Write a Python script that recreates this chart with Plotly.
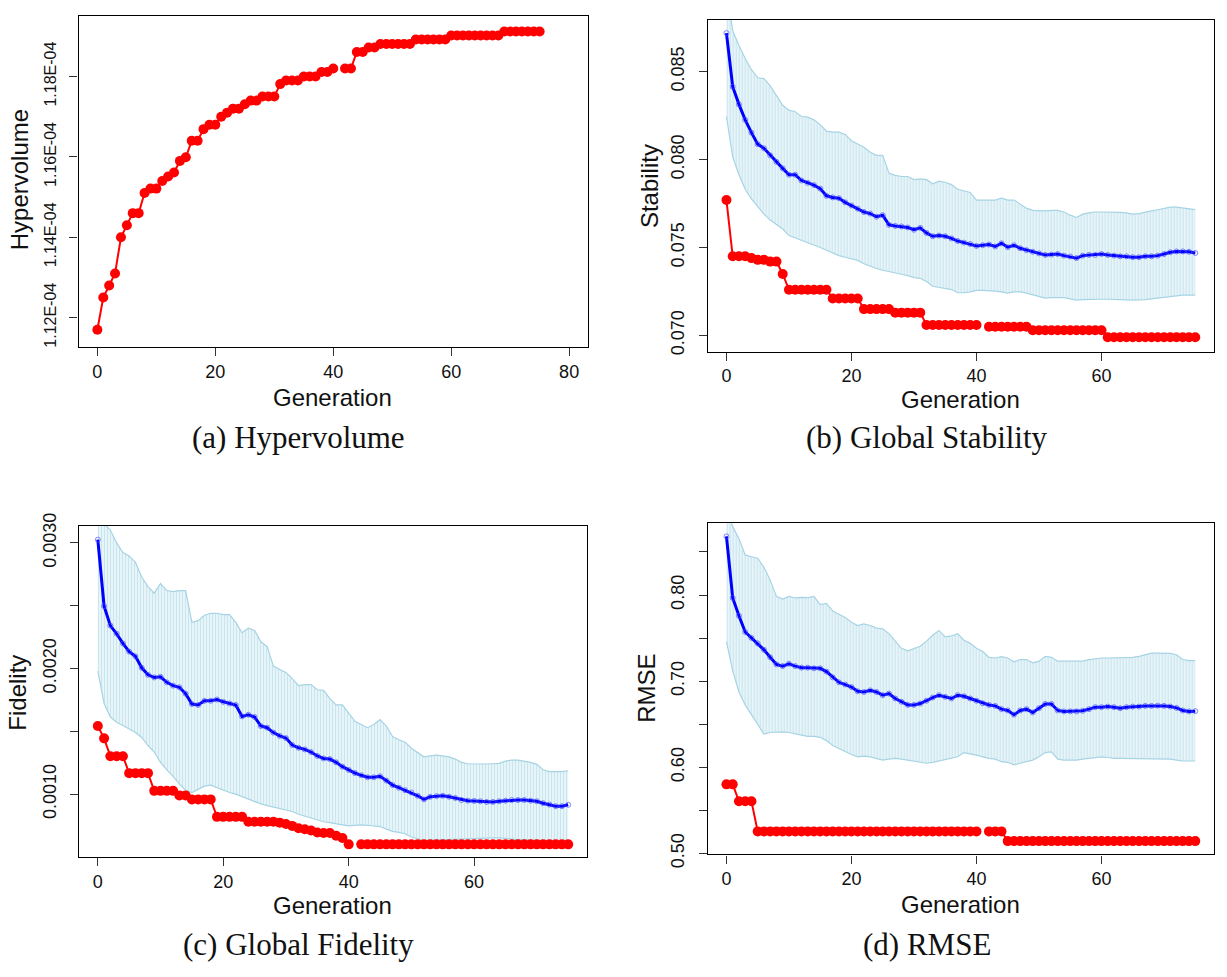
import plotly.graph_objects as go

W, H = 1227, 977
gens = list(range(76))

# ---------------- (a) Hypervolume: best per generation ----------------
hv_best = [1.1170e-4, 1.1250e-4, 1.1280e-4, 1.1310e-4, 1.1400e-4, 1.1430e-4, 1.1460e-4, 1.1460e-4,
           1.1510e-4, 1.1521e-4, 1.1521e-4, 1.1540e-4, 1.1551e-4, 1.1561e-4, 1.1590e-4, 1.1599e-4,
           1.1640e-4, 1.1640e-4, 1.1669e-4, 1.1680e-4, 1.1680e-4, 1.1700e-4, 1.1710e-4, 1.1720e-4,
           1.1720e-4, 1.1731e-4, 1.1740e-4, 1.1740e-4, 1.1750e-4, 1.1750e-4, 1.1750e-4, 1.1781e-4,
           1.1790e-4, 1.1790e-4, 1.1790e-4, 1.1800e-4, 1.1800e-4, 1.1800e-4, 1.1811e-4, 1.1811e-4,
           1.1820e-4, None, 1.1820e-4, 1.1820e-4, 1.1861e-4, 1.1861e-4, 1.1872e-4, 1.1872e-4,
           1.1881e-4, 1.1881e-4, 1.1881e-4, 1.1881e-4, 1.1881e-4, 1.1881e-4, 1.1892e-4, 1.1892e-4,
           1.1892e-4, 1.1892e-4, 1.1892e-4, 1.1892e-4, 1.1902e-4, 1.1902e-4, 1.1902e-4, 1.1902e-4,
           1.1902e-4, 1.1902e-4, 1.1902e-4, 1.1902e-4, 1.1902e-4, 1.1912e-4, 1.1912e-4, 1.1912e-4,
           1.1912e-4, 1.1912e-4, 1.1912e-4, 1.1912e-4]

# ---------------- (b) Global Stability ----------------
stab_best = [0.0777, 0.0745, 0.0745, 0.0745, 0.0744, 0.0743, 0.0743, 0.0742, 0.0742, 0.0735,
             0.0726, 0.0726, 0.0726, 0.0726, 0.0726, 0.0726, 0.0726, 0.0721, 0.0721, 0.0721,
             0.0721, 0.0721, 0.0715, 0.0715, 0.0715, 0.0715, 0.0715, 0.0713, 0.0713, 0.0713,
             0.0713, 0.0713, 0.0706, 0.0706, 0.0706, 0.0706, 0.0706, 0.0706, 0.0706, 0.0706,
             0.0706, None, 0.0705, 0.0705, 0.0705, 0.0705, 0.0705, 0.0705, 0.0705, 0.0703,
             0.0703, 0.0703, 0.0703, 0.0703, 0.0703, 0.0703, 0.0703, 0.0703, 0.0703, 0.0703,
             0.0703, 0.0699, 0.0699, 0.0699, 0.0699, 0.0699, 0.0699, 0.0699, 0.0699, 0.0699,
             0.0699, 0.0699, 0.0699, 0.0699, 0.0699, 0.0699]
stab_mean = [0.08719, 0.08414, 0.08314, 0.08226, 0.08153, 0.08088, 0.08064, 0.08024, 0.07987, 0.07950,
             0.07914, 0.07914, 0.07881, 0.07868, 0.07855, 0.07835, 0.07794, 0.07785, 0.07780, 0.07757,
             0.07739, 0.07721, 0.07702, 0.07693, 0.07675, 0.07684, 0.07629, 0.07623, 0.07620, 0.07614,
             0.07601, 0.07612, 0.07583, 0.07564, 0.07568, 0.07564, 0.07552, 0.07537, 0.07528, 0.07520,
             0.07509, 0.07513, 0.07517, 0.07506, 0.07524, 0.07502, 0.07513, 0.07496, 0.07485, 0.07476,
             0.07467, 0.07458, 0.07460, 0.07463, 0.07454, 0.07449, 0.07440, 0.07454, 0.07458, 0.07458,
             0.07463, 0.07458, 0.07454, 0.07450, 0.07450, 0.07445, 0.07445, 0.07450, 0.07450, 0.07454,
             0.07463, 0.07473, 0.07478, 0.07478, 0.07476, 0.07469]
stab_upper = [0.09000, 0.08732, 0.08649, 0.08575, 0.08511, 0.08465, 0.08460, 0.08419, 0.08364, 0.08309,
              0.08281, 0.08272, 0.08245, 0.08241, 0.08226, 0.08199, 0.08162, 0.08156, 0.08156, 0.08143,
              0.08107, 0.08088, 0.08070, 0.08042, 0.08024, 0.08024, 0.07923, 0.07910, 0.07904, 0.07904,
              0.07886, 0.07890, 0.07886, 0.07862, 0.07877, 0.07871, 0.07858, 0.07831, 0.07822, 0.07813,
              0.07770, 0.07770, 0.07770, 0.07770, 0.07781, 0.07770, 0.07770, 0.07748, 0.07724, 0.07711,
              0.07708, 0.07708, 0.07711, 0.07711, 0.07702, 0.07684, 0.07671, 0.07690, 0.07697, 0.07702,
              0.07702, 0.07702, 0.07702, 0.07700, 0.07697, 0.07690, 0.07693, 0.07702, 0.07708, 0.07715,
              0.07724, 0.07730, 0.07730, 0.07726, 0.07722, 0.07715]
stab_lower = [0.08245, 0.08015, 0.07914, 0.07831, 0.07776, 0.07730, 0.07690, 0.07656, 0.07629, 0.07605,
              0.07568, 0.07555, 0.07542, 0.07528, 0.07513, 0.07500, 0.07485, 0.07469, 0.07454, 0.07445,
              0.07436, 0.07427, 0.07408, 0.07394, 0.07381, 0.07371, 0.07362, 0.07353, 0.07348, 0.07340,
              0.07329, 0.07325, 0.07307, 0.07280, 0.07274, 0.07270, 0.07261, 0.07243, 0.07243, 0.07248,
              0.07256, 0.07256, 0.07256, 0.07252, 0.07248, 0.07241, 0.07248, 0.07248, 0.07241, 0.07230,
              0.07219, 0.07212, 0.07215, 0.07215, 0.07215, 0.07208, 0.07201, 0.07204, 0.07206, 0.07206,
              0.07206, 0.07206, 0.07206, 0.07204, 0.07203, 0.07201, 0.07201, 0.07204, 0.07208, 0.07212,
              0.07215, 0.07223, 0.07226, 0.07230, 0.07230, 0.07230]

# ---------------- (c) Global Fidelity ----------------
fid_best = [0.001542, 0.001444, 0.001302, 0.001302, 0.001302, 0.001167, 0.001167, 0.001167, 0.001167,
            0.001026, 0.001026, 0.001026, 0.001026, 0.000990, 0.000990, 0.000958, 0.000958, 0.000958,
            0.000958, 0.000819, 0.000819, 0.000819, 0.000819, 0.000819, 0.000780, 0.000780, 0.000780,
            0.000780, 0.000780, 0.000773, 0.000762, 0.000747, 0.000729, 0.000721, 0.000711, 0.000695,
            0.000690, 0.000690, 0.000669, 0.000651, 0.000600, None, 0.000600, 0.000600, 0.000600,
            0.000600, 0.000600, 0.000600, 0.000600, 0.000600, 0.000600, 0.000600, 0.000600, 0.000600,
            0.000600, 0.000600, 0.000600, 0.000600, 0.000600, 0.000600, 0.000600, 0.000600, 0.000600,
            0.000600, 0.000600, 0.000600, 0.000600, 0.000600, 0.000600, 0.000600, 0.000600, 0.000600,
            0.000600, 0.000600, 0.000600, 0.000600]
fid_mean = [0.003026, 0.002497, 0.002342, 0.002277, 0.002200, 0.002135, 0.002097, 0.002006, 0.001950,
            0.001929, 0.001934, 0.001890, 0.001864, 0.001851, 0.001800, 0.001717, 0.001710, 0.001743,
            0.001743, 0.001753, 0.001735, 0.001722, 0.001710, 0.001619, 0.001632, 0.001614, 0.001542,
            0.001529, 0.001490, 0.001464, 0.001446, 0.001391, 0.001369, 0.001356, 0.001335, 0.001304,
            0.001284, 0.001279, 0.001253, 0.001219, 0.001193, 0.001168, 0.001150, 0.001134, 0.001134,
            0.001142, 0.001108, 0.001072, 0.001051, 0.001031, 0.001013, 0.000987, 0.000958, 0.000979,
            0.000984, 0.000987, 0.000979, 0.000969, 0.000953, 0.000948, 0.000946, 0.000943, 0.000938,
            0.000938, 0.000943, 0.000948, 0.000953, 0.000953, 0.000953, 0.000948, 0.000943, 0.000928,
            0.000917, 0.000904, 0.000904, 0.000915]
fid_upper = [0.003200, 0.003150, 0.003103, 0.003000, 0.002923, 0.002897, 0.002845, 0.002729, 0.002652,
             0.002600, 0.002677, 0.002621, 0.002613, 0.002621, 0.002621, 0.002368, 0.002381, 0.002424,
             0.002440, 0.002440, 0.002430, 0.002430, 0.002368, 0.002285, 0.002321, 0.002303, 0.002213,
             0.002174, 0.002019, 0.001993, 0.001968, 0.001920, 0.001864, 0.001872, 0.001872, 0.001831,
             0.001826, 0.001761, 0.001710, 0.001710, 0.001645, 0.001580, 0.001555, 0.001529, 0.001555,
             0.001593, 0.001542, 0.001459, 0.001433, 0.001413, 0.001366, 0.001330, 0.001297, 0.001304,
             0.001310, 0.001304, 0.001297, 0.001279, 0.001253, 0.001242, 0.001240, 0.001240, 0.001240,
             0.001242, 0.001245, 0.001263, 0.001271, 0.001271, 0.001263, 0.001253, 0.001237, 0.001194,
             0.001180, 0.001180, 0.001180, 0.001186]
fid_lower = [0.001980, 0.001722, 0.001614, 0.001573, 0.001547, 0.001516, 0.001490, 0.001451, 0.001387,
             0.001335, 0.001253, 0.001193, 0.001142, 0.001082, 0.001031, 0.001013, 0.001038, 0.001064,
             0.001072, 0.001051, 0.001031, 0.001013, 0.001000, 0.000979, 0.000961, 0.000943, 0.000922,
             0.000909, 0.000897, 0.000884, 0.000871, 0.000862, 0.000840, 0.000824, 0.000806, 0.000793,
             0.000780, 0.000773, 0.000762, 0.000755, 0.000747, 0.000752, 0.000755, 0.000752, 0.000747,
             0.000742, 0.000721, 0.000703, 0.000695, 0.000685, 0.000659, 0.000644, 0.000631, 0.000634,
             0.000638, 0.000638, 0.000638, 0.000638, 0.000644, 0.000644, 0.000646, 0.000649, 0.000651,
             0.000651, 0.000651, 0.000646, 0.000638, 0.000638, 0.000638, 0.000634, 0.000631, 0.000626,
             0.000626, 0.000626, 0.000626, 0.000626]

# ---------------- (d) RMSE ----------------
rmse_best = [0.5802, 0.5802, 0.5606, 0.5606, 0.5606] + [0.5256] * 36 + [None] + [0.5256] * 3 + [0.5143] * 31
rmse_mean = [0.8681, 0.7966, 0.7759, 0.7571, 0.7503, 0.7439, 0.7364, 0.7277, 0.7194, 0.7175,
             0.7202, 0.7175, 0.7157, 0.7157, 0.7149, 0.7149, 0.7111, 0.7044, 0.6987, 0.6961,
             0.6931, 0.6882, 0.6874, 0.6893, 0.6874, 0.6837, 0.6856, 0.6799, 0.6761, 0.6724,
             0.6724, 0.6740, 0.6773, 0.6810, 0.6837, 0.6818, 0.6799, 0.6837, 0.6825, 0.6799,
             0.6773, 0.6743, 0.6724, 0.6713, 0.6675, 0.6660, 0.6611, 0.6660, 0.6675, 0.6637,
             0.6686, 0.6735, 0.6735, 0.6660, 0.6649, 0.6649, 0.6649, 0.6656, 0.6675, 0.6698,
             0.6698, 0.6705, 0.6698, 0.6686, 0.6698, 0.6705, 0.6705, 0.6713, 0.6713, 0.6716,
             0.6713, 0.6705, 0.6690, 0.6660, 0.6649, 0.6652]
rmse_upper = [0.9000, 0.8794, 0.8654, 0.8466, 0.8444, 0.8428, 0.8323, 0.8173, 0.7984, 0.7954,
              0.7984, 0.7966, 0.7973, 0.7969, 0.7984, 0.7890, 0.7902, 0.7815, 0.7778, 0.7740,
              0.7683, 0.7646, 0.7665, 0.7646, 0.7616, 0.7608, 0.7552, 0.7465, 0.7382, 0.7352,
              0.7375, 0.7405, 0.7465, 0.7533, 0.7589, 0.7514, 0.7525, 0.7552, 0.7476, 0.7439,
              0.7382, 0.7345, 0.7277, 0.7269, 0.7285, 0.7269, 0.7224, 0.7251, 0.7251, 0.7213,
              0.7232, 0.7288, 0.7277, 0.7232, 0.7232, 0.7232, 0.7232, 0.7232, 0.7251, 0.7262,
              0.7269, 0.7269, 0.7269, 0.7269, 0.7277, 0.7277, 0.7288, 0.7307, 0.7326, 0.7326,
              0.7326, 0.7322, 0.7307, 0.7251, 0.7239, 0.7239]
rmse_lower = [0.7458, 0.7119, 0.6874, 0.6724, 0.6611, 0.6498, 0.6385, 0.6404, 0.6412, 0.6412,
              0.6404, 0.6385, 0.6374, 0.6359, 0.6359, 0.6348, 0.6310, 0.6253, 0.6216, 0.6178,
              0.6148, 0.6122, 0.6129, 0.6122, 0.6103, 0.6084, 0.6095, 0.6103, 0.6095, 0.6084,
              0.6065, 0.6058, 0.6047, 0.6058, 0.6073, 0.6084, 0.6103, 0.6122, 0.6171, 0.6159,
              0.6141, 0.6122, 0.6103, 0.6095, 0.6065, 0.6058, 0.6028, 0.6047, 0.6065, 0.6084,
              0.6122, 0.6171, 0.6178, 0.6095, 0.6084, 0.6084, 0.6084, 0.6095, 0.6103, 0.6110,
              0.6122, 0.6114, 0.6103, 0.6103, 0.6103, 0.6103, 0.6103, 0.6103, 0.6103, 0.6103,
              0.6103, 0.6095, 0.6084, 0.6073, 0.6073, 0.6073]

# tick definitions
x_ticks_a = [0, 20, 40, 60, 80]
x_ticks = [0, 20, 40, 60]
hv_ticks = [1.12e-4, 1.14e-4, 1.16e-4, 1.18e-4]
hv_labels = ["1.12E-04", "1.14E-04", "1.16E-04", "1.18E-04"]
stab_ticks = [0.070, 0.075, 0.080, 0.085]
stab_labels = ["0.070", "0.075", "0.080", "0.085"]
fid_ticks = [0.0010, 0.0015, 0.0020, 0.0025, 0.0030]
fid_labels = ["0.0010", "", "0.0020", "", "0.0030"]
rmse_ticks = [0.50, 0.55, 0.60, 0.65, 0.70, 0.75, 0.80, 0.85]
rmse_labels = ["0.50", "", "0.60", "", "0.70", "", "0.80", ""]

SANS = "Liberation Sans, Arial, sans-serif"
SERIF = "Liberation Serif, Times New Roman, serif"

fig = go.Figure()

RED = "#ff0000"
BAND_LINE = "#a6d4e4"


def add_best(y, xa, ya):
    fig.add_trace(go.Scatter(x=gens, y=y, xaxis=xa, yaxis=ya, mode="lines+markers",
                             line=dict(color=RED, width=2), connectgaps=False,
                             marker=dict(color=RED, size=10, symbol="circle"),
                             showlegend=False, hoverinfo="skip"))


def add_band(mean, up, lo, xa, ya):
    fig.add_trace(go.Scatter(x=gens, y=lo, xaxis=xa, yaxis=ya, mode="lines",
                             line=dict(color=BAND_LINE, width=1.2), showlegend=False,
                             hoverinfo="skip"))
    fig.add_trace(go.Scatter(x=gens, y=up, xaxis=xa, yaxis=ya, mode="lines",
                             line=dict(color=BAND_LINE, width=1.2), fill="tonexty",
                             fillcolor="rgba(232,245,249,1)",
                             fillpattern=dict(shape="|", fgcolor="#a6d4e4",
                                              bgcolor="rgba(236,246,250,1)",
                                              size=3, solidity=0.45),
                             showlegend=False, hoverinfo="skip"))
    fig.add_trace(go.Scatter(x=gens, y=mean, xaxis=xa, yaxis=ya, mode="lines+markers",
                             line=dict(color="#0000ff", width=3),
                             marker=dict(symbol="circle-open", size=5,
                                         color="rgba(70,70,255,0.65)",
                                         line=dict(width=1)),
                             showlegend=False, hoverinfo="skip"))


# panel a
add_best(hv_best, "x", "y")
# panel b
add_band(stab_mean, stab_upper, stab_lower, "x2", "y2")
add_best(stab_best, "x2", "y2")
# panel c
add_band(fid_mean, fid_upper, fid_lower, "x3", "y3")
add_best(fid_best, "x3", "y3")
# panel d
add_band(rmse_mean, rmse_upper, rmse_lower, "x4", "y4")
add_best(rmse_best, "x4", "y4")


def px_x(a, b):
    return [a / W, b / W]


def px_y(top, bottom):
    return [1 - bottom / H, 1 - top / H]


axis_common = dict(showline=True, linecolor="black", linewidth=1.3, mirror=True,
                   ticks="outside", ticklen=8, tickwidth=1.2, tickcolor="#333",
                   showgrid=False, zeroline=False, tickmode="array")

xfont = dict(family=SANS, size=18, color="#111")
yextra = dict(tickangle=-90, ticklabelstandoff=7)

layout = dict(
    width=W, height=H, margin=dict(l=0, r=0, t=0, b=0),
    paper_bgcolor="white", plot_bgcolor="white", showlegend=False,
    xaxis=dict(domain=px_x(78.5, 588), range=[-3.2, 83.2], anchor="y",
               tickvals=x_ticks_a, ticktext=[str(v) for v in x_ticks_a], tickfont=xfont, **axis_common),
    yaxis=dict(domain=px_y(2.7, 343.3), range=[1.11274e-4, 1.19514e-4], anchor="x",
               tickvals=hv_ticks, ticktext=hv_labels,
               tickfont=dict(family=SANS, size=16, color="#111"), **yextra, **axis_common),
    xaxis2=dict(domain=px_x(707.7, 1214), range=[-3, 78], anchor="y2",
                tickvals=x_ticks, ticktext=[str(v) for v in x_ticks], tickfont=xfont, **axis_common),
    yaxis2=dict(domain=px_y(7.3, 348.3), range=[0.06908, 0.08793], anchor="x2",
                tickvals=stab_ticks, ticktext=stab_labels, tickfont=xfont, **yextra, **axis_common),
    xaxis3=dict(domain=px_x(79, 587), range=[-3, 78], anchor="y3",
                tickvals=x_ticks, ticktext=[str(v) for v in x_ticks], tickfont=xfont, **axis_common),
    yaxis3=dict(domain=px_y(527.7, 868.3), range=[0.000497, 0.003134], anchor="x3",
                tickvals=fid_ticks, ticktext=fid_labels, tickfont=xfont, **yextra, **axis_common),
    xaxis4=dict(domain=px_x(707.7, 1214), range=[-3, 78], anchor="y4",
                tickvals=x_ticks, ticktext=[str(v) for v in x_ticks], tickfont=xfont, **axis_common),
    yaxis4=dict(domain=px_y(524.7, 865.3), range=[0.4989, 0.8834], anchor="x4",
                tickvals=rmse_ticks, ticktext=rmse_labels, tickfont=xfont, **yextra, **axis_common),
)
fig.update_layout(**layout)

# axis titles and captions as paper annotations
titles = [
    ("Generation", 333, 395, 0),
    ("Hypervolume", 19, 172, -90),
    ("Generation", 960, 397, 0),
    ("Stability", 649, 178, -90),
    ("Generation", 333, 918, 0),
    ("Fidelity", 18, 699, -90),
    ("Generation", 960, 917, 0),
    ("RMSE", 647, 695, -90),
]
for text, x, y, ang in titles:
    fig.add_annotation(text=text, x=x / W, y=1 - y / H, xref="paper", yref="paper",
                       showarrow=False, textangle=ang, xanchor="center", yanchor="middle",
                       font=dict(family=SANS, size=24, color="#111"))

captions = [
    ("(a) Hypervolume", 298, 437),
    ("(b) Global Stability", 927, 437),
    ("(c) Global Fidelity", 298, 958),
    ("(d) RMSE", 927, 958),
]
for text, x, y in captions:
    fig.add_annotation(text=text, x=x / W, y=1 - y / H, xref="paper", yref="paper",
                       showarrow=False, xanchor="center", yanchor="middle",
                       font=dict(family=SERIF, size=31, color="#111"))

fig.write_html("out.html")
